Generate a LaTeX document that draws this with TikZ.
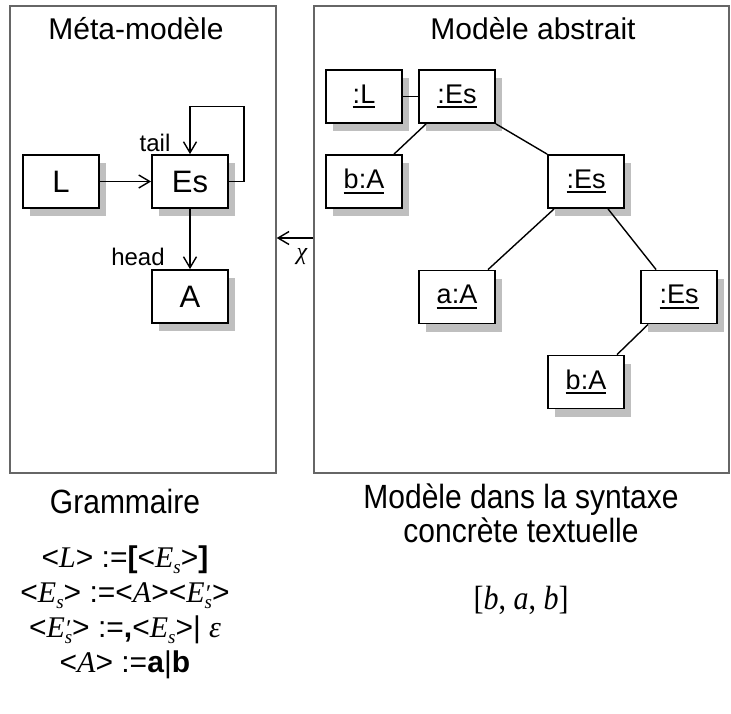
\documentclass[tikz,border=0pt]{standalone}
\usepackage{fontspec}
\usepackage{graphicx}
\setmainfont{Liberation Sans}
\newfontfamily\tms{Liberation Serif}
\usetikzlibrary{arrows.meta,shadows}
\newcommand\ulx[1]{\setbox0\hbox{#1}\rlap{\rule[-5pt]{\wd0}{1.8pt}}\box0}
\newcommand\ti[1]{{\tms\itshape #1}}
\newcommand\tall[1]{\scalebox{1}[1.12]{#1}}
\newcommand\sbs[1]{\raisebox{-0.22em}{\fontsize{19}{19}\selectfont\tms\itshape #1}}
\newcommand\sbp[1]{\rlap{\raisebox{1pt}{\fontsize{24}{24}\selectfont\tms\itshape ′}}\raisebox{-0.22em}{\fontsize{19}{19}\selectfont\tms\itshape #1}}
\begin{document}
\begin{tikzpicture}[x=1pt,y=-1pt,
 frame/.style={draw=black!60, line width=1.4pt, inner sep=0pt},
 cls/.style={draw, line width=1.8pt, fill=white, minimum width=76pt, minimum height=53pt, inner sep=0pt,
   drop shadow={shadow xshift=7pt, shadow yshift=-8pt, fill=black!25, opacity=1}},
 lcls/.style={cls, font=\fontsize{31}{33}\selectfont},
 rcls/.style={cls, font=\fontsize{27}{29}\selectfont},
 link/.style={line width=1.4pt},
 arr/.style={line width=1.4pt, -{Straight Barb[length=11pt,width=13pt,line width=1.4pt]}},
 ttl/.style={font=\fontsize{30}{33}\selectfont, anchor=base, inner sep=0pt},
 role/.style={font=\fontsize{24}{26}\selectfont, inner sep=0pt},
 gram/.style={font=\fontsize{30}{33}\selectfont, anchor=base, inner sep=0pt}]
\useasboundingbox[fill=white] (0,0) rectangle (731,713);

% frames
\node[frame, minimum width=266pt, minimum height=467pt] (mm) at (143,239.5) {};
\node[frame, minimum width=415pt, minimum height=467pt] (ma) at (521.5,239.5) {};
\node[ttl] (t1) at (136,39) {Méta-modèle};
\node[ttl] (t2) at (533,39) {Modèle abstrait};

% meta-model
\node[lcls] (L) at (61,181.5) {L};
\node[lcls] (Es) at (190,181.5) {Es};
\node[lcls] (A) at (190,296.5) {A};
\draw[arr] (L) -- (Es);
\draw[arr] (Es) -- (A);
\draw[arr] (Es.east) -- ++(15,0) -- ++(0,-75) -| (Es.north);
\node[role] (tail) at (155,143) {tail};
\node[role] (head) at (138,257) {head};

% abstract model
\node[rcls] (oL) at (364,96.5) {\ulx{:L}};
\node[rcls] (e1) at (457,96.5) {\ulx{:Es}};
\node[rcls] (b1) at (364,181.5) {\ulx{b:A}};
\node[rcls] (e2) at (586,181.5) {\ulx{:Es}};
\node[rcls] (a1) at (457,297) {\ulx{a:A}};
\node[rcls] (e3) at (679,297) {\ulx{:Es}};
\node[rcls] (b2) at (586,382) {\ulx{b:A}};
\draw[link] (oL) -- (e1);
\draw[link] ([xshift=8pt]e1.south west) -- ([xshift=30pt]b1.north);
\draw[link] (e1.south east) -- (e2.north west);
\draw[link] ([xshift=7pt]e2.south west) -- ([xshift=31pt]a1.north);
\draw[link] ([xshift=22pt]e2.south) -- ([xshift=16pt]e3.north west);
\draw[link] ([xshift=8pt]e3.south west) -- ([xshift=31pt]b2.north);

% chi
\coordinate (chiy) at (0,238);
\draw[arr] (ma.west |- chiy) -- (mm.east |- chiy);
\node[font=\fontsize{24}{26}\selectfont\tms\itshape, inner sep=0pt] (chi) at (302,257) {χ};

% bottom
\node[ttl] (g) at (125,513) {\tall{Grammaire}};
\node[ttl] (c1) at (521,508) {\tall{Modèle dans la syntaxe}};
\node[ttl] (c2) at (521,542) {\tall{concrète textuelle}};
\node[gram] (bab) at (521,609) {\tall{\tms[\textit{b}, \textit{a}, \textit{b}]}};
\node[gram] (g1) at (125,567) {<\ti{L}> :=\textbf{[}<\ti{E}\sbs{s}>\textbf{]}};
\node[gram] (g2) at (125,602) {<\ti{E}\sbs{s}> :=<\ti{A}><\ti{E}\sbp{s}>};
\node[gram] (g3) at (125,637) {<\ti{E}\sbp{s}> :=\textbf{,}<\ti{E}\sbs{s}>| \ti{ε}};
\node[gram] (g4) at (125,672) {<\ti{A}> :=\textbf{a}|\textbf{b}};
\end{tikzpicture}
\end{document}
